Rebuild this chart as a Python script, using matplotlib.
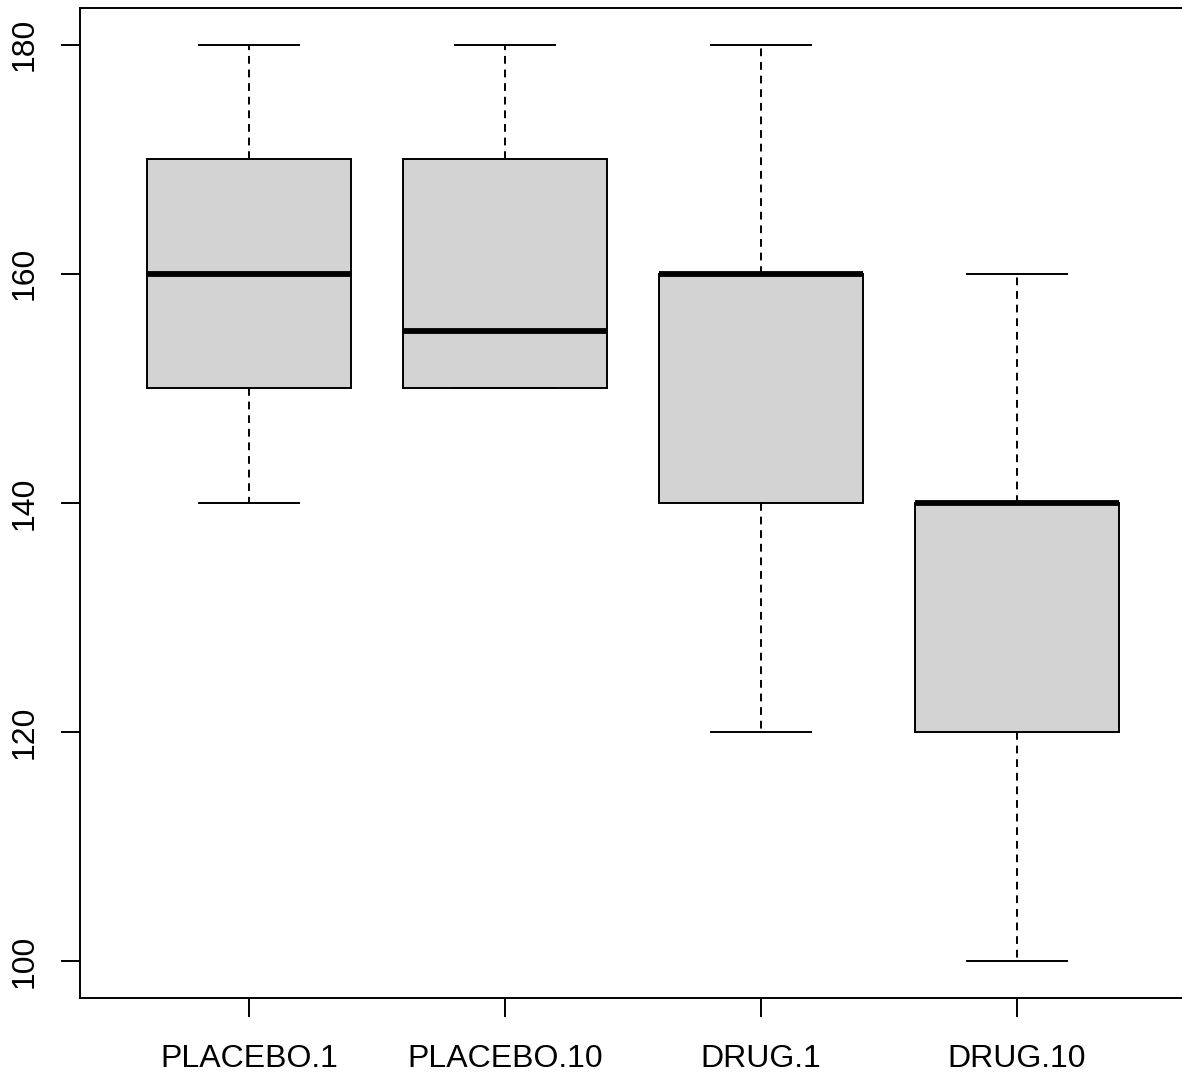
import matplotlib.pyplot as plt

# groups and the five-number summaries
groups = ['PLACEBO.1', 'PLACEBO.10', 'DRUG.1', 'DRUG.10']
low_whisker = [140, 150, 120, 100]
q1 = [150, 150, 140, 120]
medians = [160, 155, 160, 140]
q3 = [170, 170, 160, 140]
high_whisker = [180, 180, 180, 160]
y_ticks = [100, 120, 140, 160, 180]

plt.rcParams['font.family'] = ['Liberation Sans', 'DejaVu Sans']

stats = []
for i, name in enumerate(groups):
    stats.append({'label': name, 'whislo': low_whisker[i], 'q1': q1[i],
                  'med': medians[i], 'q3': q3[i], 'whishi': high_whisker[i],
                  'fliers': []})

fig = plt.figure(figsize=(11.82, 10.75), dpi=100)
ax = fig.add_axes([80 / 1182, 77 / 1075, 1106 / 1182, 990 / 1075])

lw = 1.4
ax.bxp(stats, positions=range(1, len(groups) + 1), widths=0.8,
       patch_artist=True, showfliers=False,
       boxprops=dict(facecolor='#d3d3d3', edgecolor='black', linewidth=lw),
       medianprops=dict(color='black', linewidth=4.2, solid_capstyle='butt'),
       whiskerprops=dict(color='black', linewidth=lw, linestyle=(0, (4, 3))),
       capprops=dict(color='black', linewidth=lw), capwidths=0.39)

ax.set_xlim(0.34, 4.66)
ax.set_ylim(96.8, 183.2)
ax.set_yticks(y_ticks)
ax.set_yticklabels([str(v) for v in y_ticks], rotation=90, va='center')
ax.tick_params(axis='both', labelsize=23, length=14, width=lw, colors='black')
ax.tick_params(axis='y', pad=15)
ax.tick_params(axis='x', pad=19)
for s in ax.spines.values():
    s.set_linewidth(lw)

plt.savefig('out.png', dpi=100)
